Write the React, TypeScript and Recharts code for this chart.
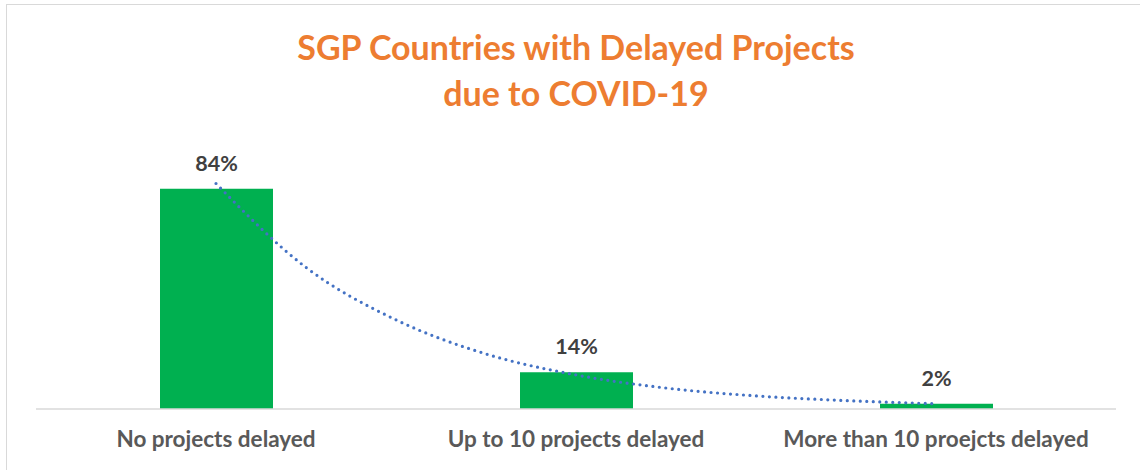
import { ComposedChart, Bar, Line, XAxis, YAxis, LabelList } from 'recharts';

// categorías y valores (%)
const categories = ['No projects delayed', 'Up to 10 projects delayed', 'More than 10 proejcts delayed'];
const shares = [84, 14, 2];

// línea de tendencia punteada (x = posición de categoría 1..3)
const trendX = [1, 1.25, 1.5, 1.75, 2, 2.25, 2.5, 2.75, 3];
const trendY = [86, 54, 34, 21, 13, 8, 5, 3.2, 2];

const chartData = categories.map((name, i) => ({ name, share: shares[i] }));
const trendData = trendX.map((x, i) => ({ x, trend: trendY[i] }));

const FONT = 'Lato, "Open Sans", sans-serif';

export default function App() {
  return (
    <div style={{ position: 'absolute', left: 0, top: 0, width: 1140, height: 470, background: '#fff', fontFamily: FONT, overflow: 'hidden' }}>
      {/* marco del gráfico */}
      <div style={{ position: 'absolute', left: 6, top: 4, width: 1140, height: 470, borderLeft: '1.5px solid #D9D9D9', borderTop: '1.5px solid #D9D9D9' }} />
      <div style={{ position: 'absolute', left: 0, top: 24, width: 1152, textAlign: 'center', color: '#ED7D31', fontWeight: 700, fontSize: 34, lineHeight: '46px' }}>
        SGP Countries with Delayed Projects
        <br />
        due to COVID-19
      </div>
      <div style={{ position: 'absolute', left: 0, top: 0 }}>
        <ComposedChart width={1140} height={470} data={chartData} margin={{ top: 173, right: 24, left: 36, bottom: 31 }}>
          <XAxis
            dataKey="name"
            height={30}
            tickLine={false}
            tickSize={0}
            tickMargin={22}
            axisLine={{ stroke: '#D9D9D9', strokeWidth: 1.5 }}
            tick={{ fontSize: 22.5, fontWeight: 700, fill: '#595959', fontFamily: FONT }}
            interval={0}
          />
          <XAxis xAxisId="trend" type="number" dataKey="x" domain={[0.5, 3.5]} hide />
          <YAxis domain={[0, 90]} hide />
          <Bar dataKey="share" fill="#00B050" barSize={113} isAnimationActive={false}>
            <LabelList
              dataKey="share"
              position="top"
              offset={18}
              formatter={(v: number) => `${v}%`}
              style={{ fontSize: 21.5, fontWeight: 700, fill: '#404040', fontFamily: FONT }}
            />
          </Bar>
          <Line
            xAxisId="trend"
            data={trendData}
            dataKey="trend"
            type="monotone"
            stroke="#4472C4"
            strokeWidth={3.2}
            strokeDasharray="0 6.5"
            strokeLinecap="round"
            dot={false}
            activeDot={false}
            isAnimationActive={false}
          />
        </ComposedChart>
      </div>
    </div>
  );
}
